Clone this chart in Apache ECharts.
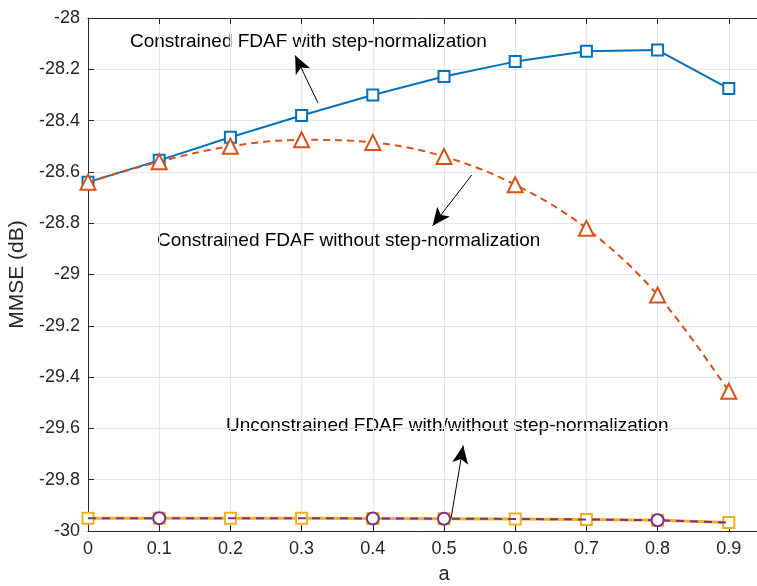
<!DOCTYPE html>
<html>
<head>
<meta charset="utf-8">
<script src="https://cdn.jsdelivr.net/npm/echarts@6/dist/echarts.min.js"></script>
<style>
  html, body { margin: 0; padding: 0; background: #fff; }
  #main { width: 757px; height: 586px; }
</style>
</head>
<body>
<div id="main"></div>
<script>
// step-size parameter a
const aValues = [0, 0.1, 0.2, 0.3, 0.4, 0.5, 0.6, 0.7, 0.8, 0.9];
// MMSE (dB)
const constrainedNorm = [-28.64, -28.555, -28.465, -28.38, -28.30, -28.228, -28.17, -28.13, -28.125, -28.275];
const constrainedNoNorm = [-28.64, -28.56, -28.50, -28.475, -28.485, -28.54, -28.65, -28.82, -29.08, -29.455];
const unconstrainedNorm = [-29.95, -29.95, -29.95, -29.95, -29.951, -29.952, -29.953, -29.955, -29.958, -29.967];
const unconstrainedNoNorm = [-29.95, -29.95, -29.95, -29.95, -29.951, -29.952, -29.953, -29.955, -29.958, -29.967];
// points where the circle of the second curve sits on top
const circleOnTop = [1, 4, 5, 8];

const labels = [
    'Constrained FDAF with step-normalization',
    'Constrained FDAF without step-normalization',
    'Unconstrained FDAF with/without step-normalization'
];

const FONT = '"Liberation Sans", Arial, sans-serif';
const AXIS_COLOR = '#262626';

let myChart = echarts.init(document.getElementById('main'), null, {renderer: 'canvas'});

function pairs(ys) {
    return aValues.map((x, i) => [x, ys[i]]);
}

function arrow(from, to) {
    return [{coord: from}, {coord: to}];
}

let purpleData = aValues.map((x, i) => {
    if (circleOnTop.indexOf(i) >= 0) return [x, unconstrainedNoNorm[i]];
    return {value: [x, unconstrainedNoNorm[i]], symbol: 'none'};
});

let option = {
    animation: false,
    textStyle: {fontFamily: FONT},
    grid: {left: 88, top: 18, right: -43, bottom: 55, outerBoundsMode: 'none', containLabel: false},
    xAxis: [{
        type: 'value',
        min: 0,
        max: 1,
        interval: 0.1,
        name: 'a',
        nameLocation: 'middle',
        nameGap: 33,
        nameTextStyle: {fontSize: 20, color: AXIS_COLOR, fontFamily: FONT},
        axisLine: {lineStyle: {color: AXIS_COLOR, width: 1}},
        axisTick: {inside: true, length: 6, lineStyle: {color: AXIS_COLOR}},
        axisLabel: {
            fontSize: 18, color: AXIS_COLOR, margin: 9, fontFamily: FONT,
            formatter: v => v > 0.95 ? '' : String(Math.round(v * 10) / 10)
        },
        splitLine: {show: true, lineStyle: {color: '#e6e6e6', width: 1}}
    }, {
        type: 'value',
        position: 'top',
        min: 0,
        max: 1,
        interval: 0.1,
        axisLine: {show: true, lineStyle: {color: AXIS_COLOR, width: 1}},
        axisTick: {show: true, inside: true, length: 6, lineStyle: {color: AXIS_COLOR}},
        axisLabel: {show: false},
        splitLine: {show: false}
    }],
    yAxis: {
        type: 'value',
        min: -30,
        max: -28,
        interval: 0.2,
        name: 'MMSE (dB)',
        nameLocation: 'middle',
        nameGap: 57,
        nameTextStyle: {fontSize: 21, color: AXIS_COLOR, fontFamily: FONT},
        axisLine: {show: true, lineStyle: {color: AXIS_COLOR, width: 1}},
        axisTick: {show: true, inside: true, length: 6, lineStyle: {color: AXIS_COLOR}},
        axisLabel: {
            fontSize: 18, color: AXIS_COLOR, margin: 8, fontFamily: FONT,
            formatter: v => String(Math.round(v * 10) / 10)
        },
        splitLine: {show: true, lineStyle: {color: '#e6e6e6', width: 1}}
    },
    series: [
        {
            name: labels[0],
            type: 'line',
            data: pairs(constrainedNorm),
            symbol: 'emptyRect',
            symbolSize: 11,
            lineStyle: {color: '#0072BD', width: 2},
            itemStyle: {color: '#0072BD', borderColor: '#0072BD', borderWidth: 2},
            z: 3
        },
        {
            name: labels[1],
            type: 'line',
            data: pairs(constrainedNoNorm),
            smooth: 0.35,
            symbol: 'emptyTriangle',
            symbolSize: 15,
            lineStyle: {color: '#D95319', width: 2, type: [7, 5]},
            itemStyle: {color: '#D95319', borderColor: '#D95319', borderWidth: 2},
            z: 4
        },
        {
            name: labels[2],
            type: 'line',
            data: pairs(unconstrainedNorm),
            symbol: 'emptyRect',
            symbolSize: 11,
            lineStyle: {color: '#EDB120', width: 3},
            itemStyle: {color: '#EDB120', borderColor: '#EDB120', borderWidth: 3},
            z: 3
        },
        {
            name: labels[2] + ' (no norm)',
            type: 'line',
            data: purpleData,
            symbol: 'emptyCircle',
            symbolSize: 12,
            lineStyle: {color: '#7E2F8E', width: 2, type: [8, 6]},
            itemStyle: {color: '#7E2F8E', borderColor: '#7E2F8E', borderWidth: 2.5},
            z: 4,
            markLine: {
                silent: true,
                symbol: ['none', 'arrow'],
                symbolSize: [12, 18],
                label: {show: false},
                lineStyle: {color: '#000', width: 1, type: 'solid'},
                emphasis: {disabled: true},
                data: [
                    arrow([0.323, -28.331], [0.291, -28.146]),
                    arrow([0.539, -28.612], [0.484, -28.81]),
                    arrow([0.510, -29.949], [0.527, -29.667])
                ]
            }
        }
    ],
    graphic: [
        {type: 'text', left: 130, top: 32, style: {text: labels[0], font: '19px ' + FONT, fill: '#000'}},
        {type: 'text', left: 157, top: 231, style: {text: labels[1], font: '19px ' + FONT, fill: '#000'}},
        {type: 'text', left: 226, top: 416, style: {text: labels[2], font: '19px ' + FONT, fill: '#000'}}
    ]
};

myChart.setOption(option);
</script>
</body>
</html>
